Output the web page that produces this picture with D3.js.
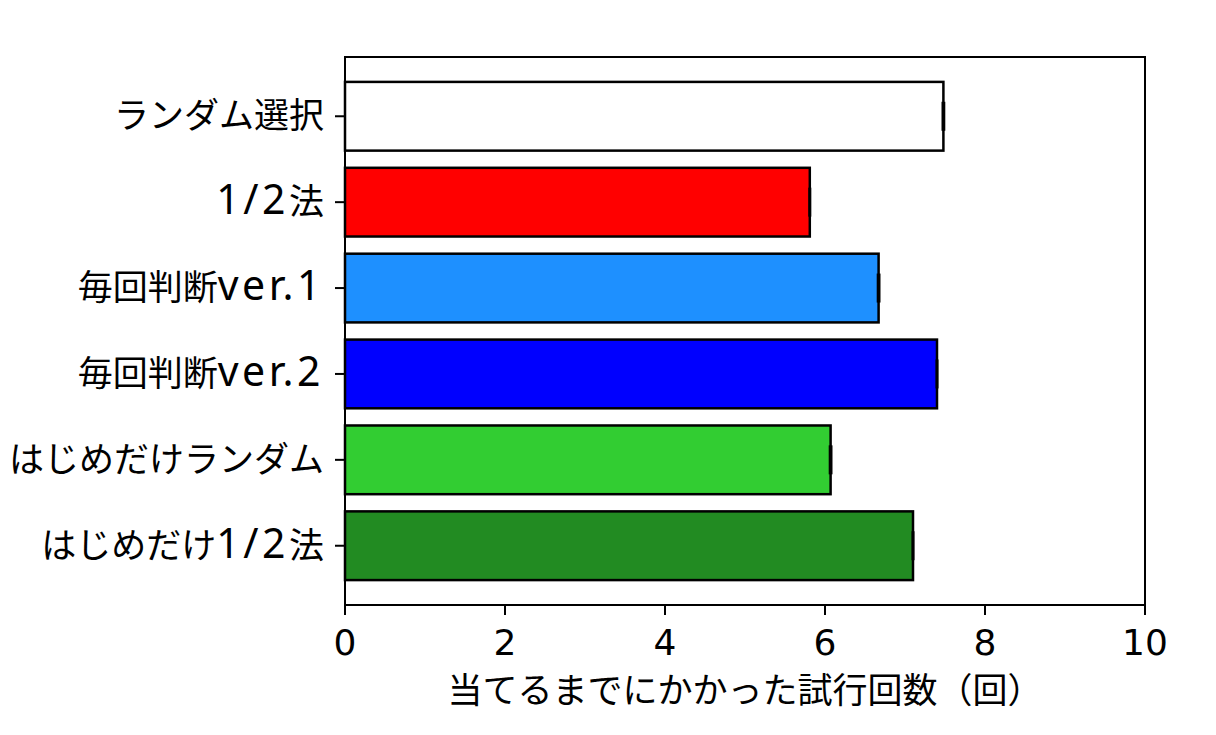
<!DOCTYPE html>
<html>
<head>
<meta charset="utf-8">
<script src="https://cdn.jsdelivr.net/npm/d3@7"></script>
<style>
  body { margin: 0; background: #fff; }
  svg { display: block; }
</style>
</head>
<body>
<svg id="chart" width="1216" height="735"></svg>
<script>
// data
var methods = ['ランダム選択', '1/2法', '毎回判断ver.1', '毎回判断ver.2', 'はじめだけランダム', 'はじめだけ1/2法'];
var trials = [7.48, 5.81, 6.67, 7.40, 6.07, 7.10];
var errors = [0.01, 0.005, 0.01, 0.005, 0.01, 0.005];
var colors = ['#ffffff', '#ff0000', '#1e90ff', '#0000ff', '#32cd32', '#228b22'];
var xTicks = [0, 2, 4, 6, 8, 10];
var xTitle = '当てるまでにかかった試行回数（回）';

var svg = d3.select('#chart');
var plotL = 345, plotR = 1145, plotT = 57, plotB = 605;
var barH = 0.8;

var x = d3.scaleLinear().domain([0, 10]).range([plotL, plotR]);
// matplotlib style margins around bar positions 0..n-1
var n = methods.length;
var lo = -barH / 2, hi = n - 1 + barH / 2, m = (hi - lo) * 0.05;
var y = d3.scaleLinear().domain([lo - m, hi + m]).range([plotT, plotB]);

var jp = '"Noto Sans CJK JP", "Noto Sans", sans-serif';

// japanese font for kana/kanji, larger latin for ascii runs
function mixedText(sel, str) {
  var runs = str.match(/[\x20-\x7e]+|[^\x20-\x7e]+/g);
  runs.forEach(function(r) {
    var t = sel.append('tspan').text(r);
    if (/^[\x20-\x7e]+$/.test(r)) {
      t.attr('font-family', '"Noto Sans", sans-serif')
        .attr('font-size', 41)
        .attr('letter-spacing', 3.5);
    }
  });
}

// bars
svg.append('g').selectAll('rect')
  .data(trials)
  .enter().append('rect')
  .attr('x', x(0))
  .attr('y', function(d, i) { return y(i - barH / 2); })
  .attr('width', function(d) { return x(d) - x(0); })
  .attr('height', y(barH) - y(0))
  .attr('fill', function(d, i) { return colors[i]; })
  .attr('stroke', '#000')
  .attr('stroke-width', 2.5);

// error bars
var eg = svg.append('g').attr('stroke', '#000').attr('stroke-width', 2.2);
trials.forEach(function(v, i) {
  var cy = y(i);
  eg.append('line').attr('x1', x(v - errors[i])).attr('x2', x(v + errors[i]))
    .attr('y1', cy).attr('y2', cy);
  [v - errors[i], v + errors[i]].forEach(function(e) {
    eg.append('line').attr('x1', x(e)).attr('x2', x(e))
      .attr('y1', cy - 14.5).attr('y2', cy + 14.5);
  });
});

// frame
svg.append('rect')
  .attr('x', plotL).attr('y', plotT)
  .attr('width', plotR - plotL).attr('height', plotB - plotT)
  .attr('fill', 'none').attr('stroke', '#000').attr('stroke-width', 2);

// x axis
var xa = svg.append('g');
xTicks.forEach(function(t) {
  xa.append('line').attr('x1', x(t)).attr('x2', x(t))
    .attr('y1', plotB).attr('y2', plotB + 10)
    .attr('stroke', '#000').attr('stroke-width', 2);
  xa.append('text').attr('x', x(t)).attr('y', 655)
    .attr('text-anchor', 'middle')
    .attr('font-family', '"DejaVu Sans", sans-serif')
    .attr('font-size', 36)
    .text(t);
});

// y axis
var ya = svg.append('g');
methods.forEach(function(name, i) {
  ya.append('line').attr('x1', plotL - 10).attr('x2', plotL)
    .attr('y1', y(i)).attr('y2', y(i))
    .attr('stroke', '#000').attr('stroke-width', 2);
  var t = ya.append('text').attr('x', plotL - 21).attr('y', y(i) + 12)
    .attr('text-anchor', 'end')
    .attr('font-family', jp)
    .attr('font-size', 35);
  mixedText(t, name);
});

svg.append('text')
  .attr('x', (plotL + plotR) / 2).attr('y', 703)
  .attr('text-anchor', 'middle')
  .attr('font-family', jp)
  .attr('font-size', 35)
  .text(xTitle);
</script>
</body>
</html>
